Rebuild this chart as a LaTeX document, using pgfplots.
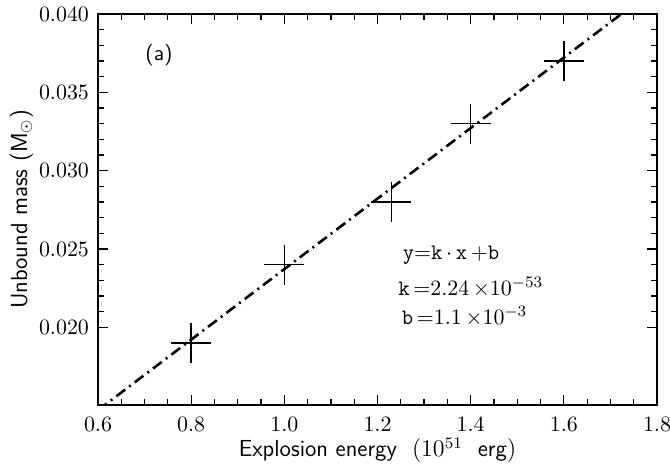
\documentclass[border=0pt]{standalone}
\usepackage{pgfplots}
\pgfplotsset{compat=1.18}
\begin{document}
\begin{tikzpicture}
\begin{axis}[
  scale only axis, width=279.5pt, height=195.5pt,
  xmin=0.6, xmax=1.8, ymin=0.01505, ymax=0.040,
  xtick={0.6,0.8,1.0,1.2,1.4,1.6,1.8},
  ytick={0.020,0.025,0.030,0.035,0.040},
  minor x tick num=3, minor y tick num=4,
  tick align=inside,
  major tick length=5pt, minor tick length=3pt,
  every tick/.style={black, line width=0.6pt},
  axis line style={line width=1pt},
  scaled y ticks=false, scaled x ticks=false,
  xticklabel style={anchor=base, yshift=-13.5pt, /pgf/number format/.cd, fixed, fixed zerofill, precision=1},
  yticklabel style={xshift=-1pt, /pgf/number format/.cd, fixed, fixed zerofill, precision=3},
  tick label style={font=\fontsize{10.6}{12}\selectfont},
  label style={font=\sffamily\fontsize{11.6}{14}\selectfont},
  xlabel={Explosion energy\ \ $(10^{51}$\ \ erg$)$},
  xlabel style={at={(axis description cs:0.5,0)}, anchor=base, yshift=-26pt},
  ylabel={Unbound mass (M$_\odot$)},
  ylabel style={at={(axis description cs:-0.127,0.5)}, anchor=base},
]
\addplot[black, line width=1.3pt, dash pattern=on 5.5pt off 2.5pt on 1pt off 2.5pt]
  coordinates {(0.6,0.01472) (1.8,0.04172)};
\addplot[only marks, mark=+, mark size=10pt, mark options={line width=0.75pt}, black]
  coordinates {(0.8,0.019) (1.0,0.024) (1.23,0.028) (1.4,0.033) (1.6,0.037)};
\node[font=\sffamily\fontsize{10.8}{13}\selectfont] at (axis cs:0.731,0.03737) {(a)};
\node[anchor=base west, inner sep=0pt, font=\fontsize{11}{13}\selectfont] at (axis cs:1.2536,0.02436)
  {$\texttt{y}{=}\texttt{k}\,{\cdot}\,\texttt{x}\,{+}\texttt{b}$};
\node[anchor=base west, inner sep=0pt, font=\fontsize{11}{13}\selectfont] at (axis cs:1.2438,0.02205)
  {$\texttt{k}\,{=}2.24\,{\times}10^{-53}$};
\node[anchor=base west, inner sep=0pt, font=\fontsize{11}{13}\selectfont] at (axis cs:1.2515,0.02019)
  {$\texttt{b}\,{=}1.1\,{\times}10^{-3}$};
\end{axis}
\pgfresetboundingbox
\path[use as bounding box] ([shift={(-49pt,-32pt)}]current axis.south west) rectangle ([shift={(6.5pt,7pt)}]current axis.north east);
\end{tikzpicture}
\end{document}
